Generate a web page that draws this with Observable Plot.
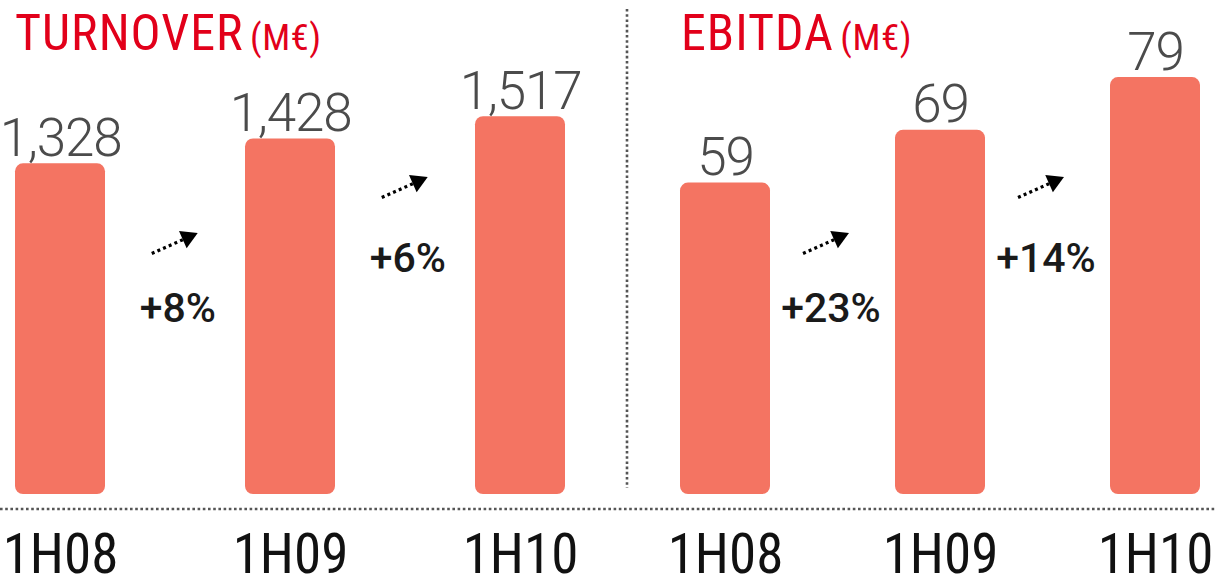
<!DOCTYPE html>
<html>
<head>
<meta charset="utf-8">
<script src="https://cdn.jsdelivr.net/npm/d3@7"></script>
<script src="https://cdn.jsdelivr.net/npm/@observablehq/plot@0.6"></script>
<style>
  html, body { margin: 0; padding: 0; background: #ffffff; }
  #chart { position: relative; width: 1216px; height: 579px; overflow: hidden; }
  #chart .panel { position: absolute; top: 0; }
  #chart .title { position: absolute; top: 0; color: #e2001a; white-space: nowrap;
    font-family: Roboto, sans-serif; font-stretch: semi-condensed; letter-spacing: 1px;
    font-size: 50px; line-height: 1; }
  #chart .title .unit { font-size: 37px; letter-spacing: 0.5px; margin-left: -6px; }
  #chart .panel g[font-size="53"] { font-stretch: 88%; letter-spacing: -1.2px; }
  #chart .panel g[font-size="55"] { font-stretch: 85%; }
  #chart .panel g[font-size="41"] { font-stretch: normal; }
  #chart svg.overlay { position: absolute; left: 0; top: 0; pointer-events: none; }
</style>
</head>
<body>
<div id="chart"></div>
<script>
// ---- data ----
const categories = ["1H08", "1H09", "1H10"];
const turnover = [1328, 1428, 1517];
const ebitda = [59, 69, 79];
const turnoverGrowth = ["+8%", "+6%"];
const ebitdaGrowth = ["+23%", "+14%"];
const panelTitles = ["TURNOVER", "EBITDA"];
const unitLabel = "(M€)";

// ---- style ----
const barColor = "#f47462";
const valueColor = "#4b4b4b";
const mainFont = "Roboto, sans-serif";
const growthRows = [{textY: 308, arrowY: 253}, {textY: 258, arrowY: 197}];
const fmt = d3.format(",");

function panel({values, growth, width, marginLeft, marginRight, paddingInner, yMax, arrowDx, textDx}) {
  const data = categories.map((c, i) => ({cat: c, value: values[i]}));
  const step = (width - marginLeft - marginRight) / (categories.length - paddingInner);
  const growthMarks = growth.flatMap((g, i) => {
    const datum = [{from: categories[i], label: g}];
    const row = growthRows[i];
    return [
      Plot.text(datum, {x: "from", text: "label", frameAnchor: "top", dx: step / 2 + textDx, dy: row.textY,
        lineAnchor: "middle", fontSize: 41, fontWeight: 500, fill: "#1a1a1a"}),
      Plot.vector(datum, {x: "from", frameAnchor: "top", dx: step / 2 + arrowDx, dy: row.arrowY,
        anchor: "start", length: 35, rotate: 66, r: 0, stroke: "#000", strokeWidth: 3.2,
        strokeDasharray: "3 3.2", strokeLinecap: "butt"}),
      Plot.dot(datum, {x: "from", frameAnchor: "top", dx: step / 2 + arrowDx + 36, dy: row.arrowY - 16,
        symbol: "triangle", r: 7, rotate: 66, fill: "#000", stroke: null})
    ];
  });
  return Plot.plot({
    width,
    height: 579,
    marginTop: 0,
    marginBottom: 85,
    marginLeft,
    marginRight,
    x: {domain: categories, paddingInner, paddingOuter: 0},
    y: {domain: [0, yMax], axis: null},
    style: {fontFamily: mainFont, background: "transparent", overflow: "visible"},
    marks: [
      Plot.barY(data, {x: "cat", y: "value", fill: barColor, rx: 8}),
      Plot.text(data, {x: "cat", y: "value", text: d => fmt(d.value), lineAnchor: "bottom", dy: -8,
        fontSize: 53, fontWeight: 300, fill: valueColor}),
      ...growthMarks,
      Plot.axisX({tickSize: 0, tickPadding: 39, fontSize: 55, color: "#111", label: null})
    ]
  });
}

const chart = document.getElementById("chart");

const left = panel({values: turnover, growth: turnoverGrowth, width: 627, marginLeft: 14, marginRight: 62,
  paddingInner: 0.61, yMax: 1984, arrowDx: -24, textDx: 2});
left.classList.add("panel");
left.style.left = "0px";
chart.appendChild(left);

const right = panel({values: ebitda, growth: ebitdaGrowth, width: 589, marginLeft: 53, marginRight: 16,
  paddingInner: 0.582, yMax: 93.6, arrowDx: -30, textDx: -2});
right.classList.add("panel");
right.style.left = "627px";
chart.appendChild(right);

// titles
[[panelTitles[0], 15], [panelTitles[1], 681]].forEach(([t, x]) => {
  const div = document.createElement("div");
  div.className = "title";
  div.style.left = x + "px";
  div.style.top = "8px";
  div.innerHTML = `${t} <span class="unit">${unitLabel}</span>`;
  chart.appendChild(div);
});

// dotted separators
const ns = "http://www.w3.org/2000/svg";
const overlay = document.createElementNS(ns, "svg");
overlay.setAttribute("class", "overlay");
overlay.setAttribute("width", 1216);
overlay.setAttribute("height", 579);
[[0, 509, 1216, 509], [627, 9, 627, 488]].forEach(([x1, y1, x2, y2]) => {
  const l = document.createElementNS(ns, "line");
  l.setAttribute("x1", x1); l.setAttribute("y1", y1);
  l.setAttribute("x2", x2); l.setAttribute("y2", y2);
  l.setAttribute("stroke", "#555");
  l.setAttribute("stroke-width", 2.6);
  l.setAttribute("stroke-dasharray", "2.6,2.6");
  overlay.appendChild(l);
});
chart.appendChild(overlay);
</script>
</body>
</html>
